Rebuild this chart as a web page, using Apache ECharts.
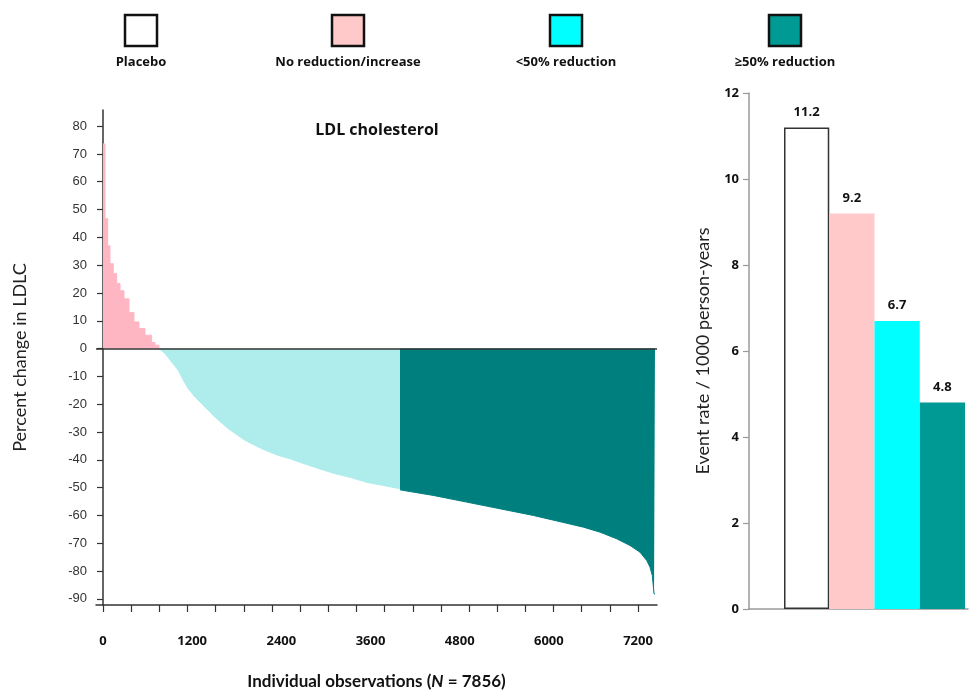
<!DOCTYPE html>
<html>
<head>
<meta charset="utf-8">
<script src="https://cdn.jsdelivr.net/npm/echarts@6/dist/echarts.min.js"></script>
<style>
  html, body { margin: 0; padding: 0; background: #ffffff; }
  #chart { width: 971px; height: 690px; }
</style>
</head>
<body>
<div id="chart"></div>
<script>
// ---- Waterfall: percent change in LDL-C, participants sorted from largest rise to largest fall ----
// Observation positions are in the units of the horizontal axis.
const riseObs = [0, 27, 63, 94, 139, 184, 229, 283, 350, 417, 484, 565, 655, 700, 754];
const risePct = [73.6, 46.7, 37.0, 30.5, 27.0, 23.4, 20.8, 17.9, 13.0, 9.6, 7.2, 4.8, 2.2, 1.2, 0];

const smallCutObs = [754, 834, 924, 1013, 1081, 1148, 1238, 1373, 1507, 1686, 1911, 2136, 2359,
                     2539, 2651, 2876, 3099, 3324, 3549, 3772, 3997];
const smallCutPct = [0, -1.8, -4.8, -7.8, -11.4, -14.4, -17.4, -21.0, -24.6, -28.8, -33.0, -36.0, -38.4,
                     -39.8, -40.9, -42.9, -44.8, -46.3, -48.1, -49.2, -50.4];

const bigCutObs = [3997, 4445, 4894, 5342, 5791, 6240, 6464, 6688, 6913, 7092, 7226, 7317, 7361,
                   7392, 7415, 7428];
const bigCutPct = [-50.8, -52.8, -55.2, -57.6, -60.0, -62.8, -64.2, -66.0, -68.4, -70.8, -73.2, -76.2, -78.6,
                   -81.6, -88.2, -88.2];

// Axis tick labels of the waterfall
const obsLabels = [0, 1200, 2400, 3600, 4800, 6000, 7200];
const pctLabels = [-90, -80, -70, -60, -50, -40, -30, -20, -10, 0, 10, 20, 30, 40, 50, 60, 70, 80];
const obsTickCount = 19; // tick intervals between 0 and 7200

// ---- Event rates by group ----
const groups = ['Placebo', 'No reduction/increase', '<50% reduction', '\u226550% reduction'];
const eventRate = [11.2, 9.2, 6.7, 4.8];
const rateLabels = [0, 2, 4, 6, 8, 10, 12];

// Colours
const barColors = ['#ffffff', '#ffc9c9', '#00ffff', '#009a94'];
const areaColors = { rise: '#ffb6c3', small: '#afeded', big: '#007f7f' };
const legendX = [141, 348, 566, 785];

const obsTicks = [];
for (let i = 0; i <= obsTickCount; i++) obsTicks.push(i * 7200 / obsTickCount);

const zip = (xs, ys) => xs.map((x, i) => [x, ys[i]]);

const boldFont = '"Open Sans", "DejaVu Sans", sans-serif';
const nameFont = 'Lato, "Open Sans", sans-serif';

const legendGraphics = [];
groups.forEach((g, i) => {
  legendGraphics.push({
    type: 'rect',
    shape: { x: legendX[i] - 16, y: 15, width: 32, height: 31 },
    style: { fill: barColors[i], stroke: '#111111', lineWidth: 2.5 }
  });
  legendGraphics.push({
    type: 'text',
    x: legendX[i], y: 62,
    style: {
      text: g, align: 'center', verticalAlign: 'middle',
      fontFamily: boldFont, fontWeight: 'bold', fontSize: 13, fill: '#111111'
    }
  });
});

const chart = echarts.init(document.getElementById('chart'), null, { renderer: 'canvas' });

chart.setOption({
  animation: false,
  backgroundColor: '#ffffff',
  title: {
    text: 'LDL cholesterol',
    left: 372, top: 117, textAlign: 'center',
    textStyle: { fontFamily: boldFont, fontWeight: 'bold', fontSize: 16, color: '#111111' }
  },
  graphic: legendGraphics,
  grid: [
    { left: 96, right: 314, top: 110, bottom: 85, outerBoundsMode: 'none', containLabel: false },   // waterfall
    { left: 749, right: 3, top: 93, bottom: 81, outerBoundsMode: 'none', containLabel: false },     // event-rate axes
    { left: 784, right: 6, top: 93, bottom: 81, outerBoundsMode: 'none', containLabel: false }      // event-rate bars
  ],
  xAxis: [
    {
      gridIndex: 0, type: 'value', min: -94, max: 7455,
      axisLine: { onZero: false, lineStyle: { color: '#333333', width: 1.5 } },
      axisTick: { show: true, customValues: obsTicks, length: 7, lineStyle: { color: '#333333', width: 1.2 } },
      axisLabel: {
        customValues: obsLabels, margin: 30, formatter: (v) => String(v),
        fontFamily: boldFont, fontWeight: 'bold', fontSize: 13, color: '#111111'
      },
      splitLine: { show: false },
      name: 'Individual observations ({i|N} = 7856)',
      nameLocation: 'middle', nameGap: 68,
      nameTextStyle: {
        fontFamily: nameFont, fontWeight: 'bold', fontSize: 17, color: '#111111',
        rich: { i: { fontFamily: nameFont, fontWeight: 'bold', fontStyle: 'italic', fontSize: 17, color: '#111111' } }
      }
    },
    {
      gridIndex: 1, type: 'value', min: 0, max: 1,
      axisLine: { show: true, lineStyle: { color: '#9a9a9a', width: 1.5 } },
      axisTick: { show: false }, axisLabel: { show: false }, splitLine: { show: false }
    },
    {
      gridIndex: 2, type: 'category', data: groups, show: false
    }
  ],
  yAxis: [
    {
      gridIndex: 0, type: 'value', min: -92.2, max: 85.8,
      axisLine: { show: true, lineStyle: { color: '#333333', width: 1.5 } },
      axisTick: { show: true, customValues: pctLabels, length: 6, lineStyle: { color: '#333333', width: 1.2 } },
      axisLabel: {
        customValues: pctLabels, margin: 9,
        fontFamily: '"Liberation Sans", sans-serif', fontSize: 13, color: '#333333'
      },
      splitLine: { show: false },
      name: 'Percent change in LDLC',
      nameLocation: 'middle', nameGap: 67,
      nameTextStyle: { fontFamily: nameFont, fontSize: 18, color: '#222222' }
    },
    {
      gridIndex: 1, type: 'value', min: 0, max: 12,
      axisLine: { show: true, lineStyle: { color: '#9a9a9a', width: 1.5 } },
      axisTick: { show: true, customValues: rateLabels, length: 6, lineStyle: { color: '#9a9a9a', width: 1.2 } },
      axisLabel: {
        customValues: rateLabels, margin: 10,
        fontFamily: boldFont, fontWeight: 'bold', fontSize: 13, color: '#111111'
      },
      splitLine: { show: false },
      name: 'Event rate / 1000 person-years',
      nameLocation: 'middle', nameGap: 37,
      nameTextStyle: { fontFamily: nameFont, fontSize: 18, color: '#222222' }
    },
    {
      gridIndex: 2, type: 'value', min: 0, max: 12, show: false
    }
  ],
  series: [
    {
      name: 'No reduction/increase', type: 'line', xAxisIndex: 0, yAxisIndex: 0,
      data: zip(riseObs, risePct), step: 'end', symbol: 'none', silent: true,
      lineStyle: { width: 1, color: areaColors.rise },
      areaStyle: { color: areaColors.rise, opacity: 1 }
    },
    {
      name: '<50% reduction', type: 'line', xAxisIndex: 0, yAxisIndex: 0,
      data: zip(smallCutObs, smallCutPct), symbol: 'none', silent: true,
      lineStyle: { width: 1, color: areaColors.small },
      areaStyle: { color: areaColors.small, opacity: 1 }
    },
    {
      name: '\u226550% reduction', type: 'line', xAxisIndex: 0, yAxisIndex: 0,
      data: zip(bigCutObs, bigCutPct), symbol: 'none', silent: true,
      lineStyle: { width: 1, color: areaColors.big },
      areaStyle: { color: areaColors.big, opacity: 1 },
      markLine: {
        silent: true, symbol: 'none', animation: false,
        label: { show: false },
        lineStyle: { color: '#333333', width: 1.5, type: 'solid' },
        data: [{ yAxis: 0 }]
      }
    },
    {
      name: 'Event rate', type: 'bar', xAxisIndex: 2, yAxisIndex: 2,
      barCategoryGap: '0%',
      data: eventRate.map((v, i) => ({
        value: v,
        itemStyle: i === 0
          ? { color: barColors[i], borderColor: '#333333', borderWidth: 1.5 }
          : { color: barColors[i] }
      })),
      label: {
        show: true, position: 'top', distance: 9,
        fontFamily: boldFont, fontWeight: 'bold', fontSize: 13, color: '#111111'
      }
    }
  ]
});
</script>
</body>
</html>
